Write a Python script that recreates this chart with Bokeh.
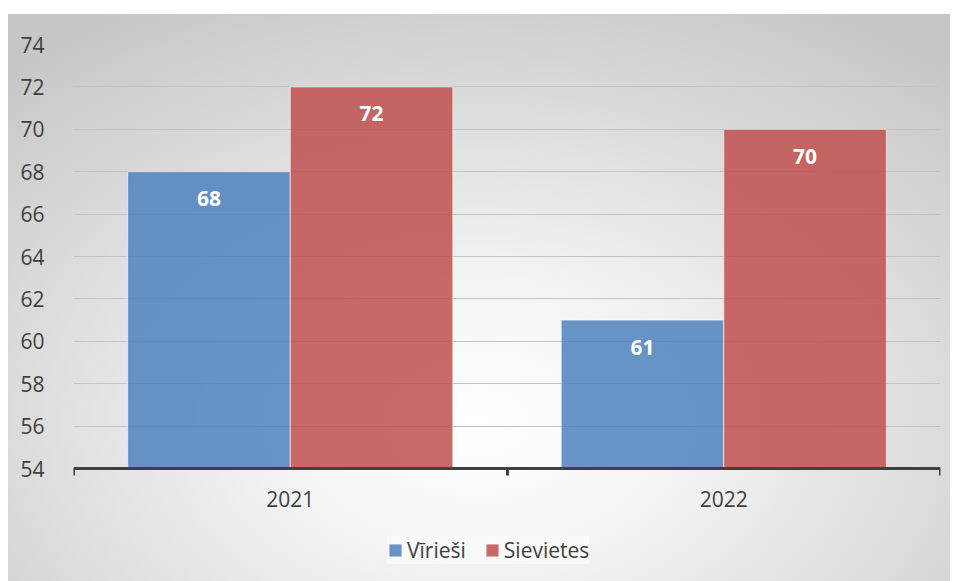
from bokeh.plotting import figure
from bokeh.models import Range1d, FixedTicker, Legend, LegendItem, ColumnDataSource
from bokeh.transform import dodge
from bokeh.core.properties import value
from bokeh.embed import file_html
from bokeh.resources import INLINE

years = ["2021", "2022"]
virieshi = [68, 61]
sievietes = [72, 70]
series_names = ["Vīrieši", "Sievietes"]
y_ticks = [54, 56, 58, 60, 62, 64, 66, 68, 70, 72, 74]

FONT = "Open Sans"
TXT = "#404040"
FS = "21px"

x_centers = [i + 0.5 for i in range(len(years))]
base = y_ticks[0]
src = ColumnDataSource(dict(
    x=x_centers, year=years, v=virieshi, s=sievietes,
    vl=[str(v) for v in virieshi], sl=[str(v) for v in sievietes],
))

# frame spans down to the bottom of the chart so the legend can sit inside it;
# the category axis is pinned at the baseline value
px_per_unit = 424 / (y_ticks[-1] - y_ticks[0])
y_start = base - (581 - 468) / px_per_unit

p = figure(width=950, height=581, x_range=Range1d(0, len(years)),
           y_range=Range1d(y_start, y_ticks[-1]),
           output_backend="svg", toolbar_location=None,
           min_border_left=73, min_border_right=10, min_border_top=44,
           min_border_bottom=0)
p.styles = {"background": "radial-gradient(ellipse 75% 85% at 50% 72%, #ffffff 0%, #f3f3f3 30%, #dcdcdc 65%, #c6c6c6 100%) no-repeat 8px 14px / 942px 567px, #ffffff"}
p.background_fill_alpha = 0
p.border_fill_alpha = 0
p.outline_line_color = None

bw = 0.375
rv = p.vbar(x=dodge("x", -bw / 2), top="v", bottom=base, width=bw, source=src,
            fill_color="#4F81BD", fill_alpha=0.85,
            line_color="#ffffff", line_alpha=0.6, line_width=1)
rs = p.vbar(x=dodge("x", bw / 2), top="s", bottom=base, width=bw, source=src,
            fill_color="#C0504D", fill_alpha=0.85,
            line_color="#ffffff", line_alpha=0.6, line_width=1)

p.text(x=dodge("x", -bw / 2), y="v", text="vl", source=src, y_offset=27,
       text_align="center", text_baseline="middle", text_color="white",
       text_font=value(FONT), text_font_style="bold", text_font_size=FS)
p.text(x=dodge("x", bw / 2), y="s", text="sl", source=src, y_offset=27,
       text_align="center", text_baseline="middle", text_color="white",
       text_font=value(FONT), text_font_style="bold", text_font_size=FS)

# y axis
p.yaxis.ticker = FixedTicker(ticks=y_ticks)
p.yaxis.axis_line_color = None
p.yaxis.major_tick_line_color = None
p.yaxis.minor_tick_line_color = None
p.yaxis.major_label_standoff = 23
p.yaxis.major_label_text_font = FONT
p.yaxis.major_label_text_font_size = FS
p.yaxis.major_label_text_color = TXT

p.ygrid.ticker = FixedTicker(ticks=y_ticks)
p.ygrid.grid_line_color = "#c4c4c4"
p.ygrid.grid_line_width = 1
p.xgrid.grid_line_color = None

# x axis: labels at centers, ticks at boundaries (minor ticks)
p.xaxis.fixed_location = base
p.xaxis.ticker = FixedTicker(ticks=x_centers, minor_ticks=list(range(len(years) + 1)))
p.xaxis.major_label_overrides = {c: y for c, y in zip(x_centers, years)}
p.xaxis.axis_line_color = TXT
p.xaxis.axis_line_width = 3
p.xaxis.major_tick_line_color = None
p.xaxis.minor_tick_line_color = TXT
p.xaxis.minor_tick_line_width = 3
p.xaxis.minor_tick_in = 0
p.xaxis.minor_tick_out = 7
p.xaxis.major_label_standoff = 15
p.xaxis.major_label_text_font = FONT
p.xaxis.major_label_text_font_size = FS
p.xaxis.major_label_text_color = TXT

legend = Legend(items=[LegendItem(label=series_names[0], renderers=[rv]),
                       LegendItem(label=series_names[1], renderers=[rs])],
                orientation="horizontal", location=(314, 17))
legend.label_text_font = FONT
legend.label_text_font_size = FS
legend.label_text_color = TXT
legend.glyph_width = 16
legend.glyph_height = 16
legend.label_standoff = 4
legend.spacing = 18
legend.padding = 12
legend.margin = 0
legend.background_fill_color = "#fafafa"
legend.background_fill_alpha = 0.8
legend.border_line_color = None
p.add_layout(legend)

open("out.html", "w").write(file_html(p, INLINE))
